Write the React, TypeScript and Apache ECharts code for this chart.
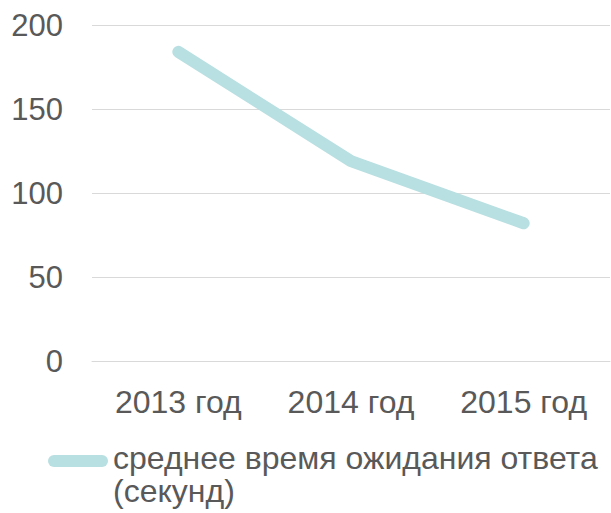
import React, { useEffect, useRef } from "react";
import * as echarts from "echarts";

const categories: string[] = ["2013 год", "2014 год", "2015 год"];
const seriesName = "среднее время ожидания ответа (секунд)";
const waitSeconds: number[] = [184, 119, 82];
const yTicks = { min: 0, max: 200, interval: 50 };

const FONT = "'Liberation Sans', Arial, sans-serif";
const TEXT = "#595959";
const LINE = "#b8dfe1";

export default function App() {
  const ref = useRef<HTMLDivElement>(null);
  useEffect(() => {
    if (!ref.current) return;
    const chart = echarts.init(ref.current, undefined, { renderer: "svg" });
    chart.setOption({
      animation: false,
      textStyle: { fontFamily: FONT },
      grid: { left: 92, right: 1, top: 25, bottom: 152, containLabel: false },
      xAxis: {
        type: "category",
        data: categories,
        boundaryGap: true,
        axisLine: { show: true, lineStyle: { color: "#d9d9d9", width: 1 } },
        axisTick: { show: false },
        axisLabel: { color: TEXT, fontSize: 32, margin: 25, fontFamily: FONT },
      },
      yAxis: {
        type: "value",
        min: yTicks.min,
        max: yTicks.max,
        interval: yTicks.interval,
        axisLine: { show: false },
        axisTick: { show: false },
        splitLine: { lineStyle: { color: "#d9d9d9", width: 1 } },
        axisLabel: { color: TEXT, fontSize: 31, margin: 29, fontFamily: FONT },
      },
      legend: {
        left: 48,
        top: 441,
        padding: 0,
        itemWidth: 60,
        itemHeight: 66,
        icon: "path://M0,0 M60,66 M6,14 L54,14 A6,6 0 0 1 54,26 L6,26 A6,6 0 0 1 6,14 Z",
        formatter: () => "среднее время ожидания ответа\n(секунд)",
        textStyle: { color: TEXT, fontSize: 32, lineHeight: 33, fontFamily: FONT },
      },
      series: [
        {
          name: seriesName,
          type: "line",
          data: waitSeconds,
          symbol: "none",
          lineStyle: { color: LINE, width: 12, cap: "round", join: "round" },
          itemStyle: { color: LINE },
        },
      ],
    });
    return () => chart.dispose();
  }, []);
  return <div ref={ref} style={{ width: 611, height: 513, position: "absolute", left: 0, top: 0 }} />;
}
